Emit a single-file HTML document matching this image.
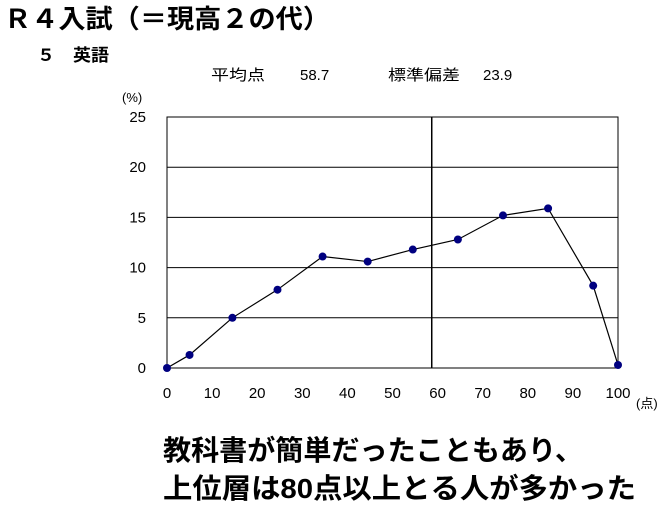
<!DOCTYPE html>
<html><head><meta charset="utf-8">
<style>
body{margin:0;width:668px;height:509px;background:#fff;overflow:hidden;font-family:"Liberation Sans","Noto Sans CJK JP",sans-serif;}
</style></head>
<body>
<svg width="668" height="509" xmlns="http://www.w3.org/2000/svg" font-family="Liberation Sans, Noto Sans CJK JP, sans-serif">
<text x="4" y="28" font-size="26" font-weight="bold" textLength="326" lengthAdjust="spacingAndGlyphs">Ｒ４入試（＝現高２の代）</text>
<text x="37" y="61" font-size="17" font-weight="bold" textLength="72" lengthAdjust="spacingAndGlyphs">５　英語</text>
<text x="211" y="80" font-size="15" textLength="54" lengthAdjust="spacingAndGlyphs">平均点</text>
<text x="300" y="80" font-size="15">58.7</text>
<text x="388" y="80" font-size="15" textLength="72" lengthAdjust="spacingAndGlyphs">標準偏差</text>
<text x="483" y="80" font-size="15">23.9</text>
<text x="122" y="102" font-size="13">(%)</text>
<text x="636" y="408" font-size="13">(点)</text>
<g id="grid"></g>
<g id="marks"></g>
<text x="163" y="460" font-size="28" font-weight="bold" textLength="420" lengthAdjust="spacingAndGlyphs">教科書が簡単だったこともあり、</text>
<text x="163" y="498" font-size="28" font-weight="bold" textLength="473" lengthAdjust="spacingAndGlyphs">上位層は80点以上とる人が多かった</text>
</svg>
<script>
const xs=[0,5,14.5,24.5,34.5,44.5,54.5,64.5,74.5,84.5,94.5,100];
const ys=[0,1.3,5.0,7.8,11.1,10.6,11.8,12.8,15.2,15.9,8.2,0.3];
const yTicks=[0,5,10,15,20,25];
const xTicks=[0,10,20,30,40,50,60,70,80,90,100];
const meanScore=58.7;
const X=v=>167+v*(618-167)/100, Y=v=>368-v*(368-117)/25;
const ns="http://www.w3.org/2000/svg";
const g=document.getElementById('grid'), m=document.getElementById('marks');
function mk(p,tag,at){const e=document.createElementNS(ns,tag);for(const k in at)e.setAttribute(k,at[k]);p.appendChild(e);return e;}
yTicks.forEach(t=>{
 const l=mk(g,'line',{x1:X(0),x2:X(100),y1:Y(t),y2:Y(t),stroke:'#000','stroke-width':1});
 
 
 const tx=mk(g,'text',{x:146,y:Y(t)+5,'font-size':15,'text-anchor':'end'});tx.textContent=t;
 
 
});
xTicks.forEach(t=>{
 const tx=mk(g,'text',{x:X(t),y:398,'font-size':15,'text-anchor':'middle'});tx.textContent=t;
 
 
});
const fr=mk(g,'rect',{x:X(0),y:Y(25),width:X(100)-X(0),height:Y(0)-Y(25),fill:'none',stroke:'#000'});


const ml=mk(g,'line',{x1:X(meanScore),x2:X(meanScore),y1:Y(25),y2:Y(0),stroke:'#000','stroke-width':1.5});


const pl=mk(m,'polyline',{points:xs.map((x,i)=>X(x)+','+Y(ys[i])).join(' '),fill:'none',stroke:'#000','stroke-width':1.2});


xs.forEach((x,i)=>{
 const c=mk(m,'circle',{cx:X(x),cy:Y(ys[i]),r:4,fill:'#000080'});
 
 
});
</script>
</body></html>
